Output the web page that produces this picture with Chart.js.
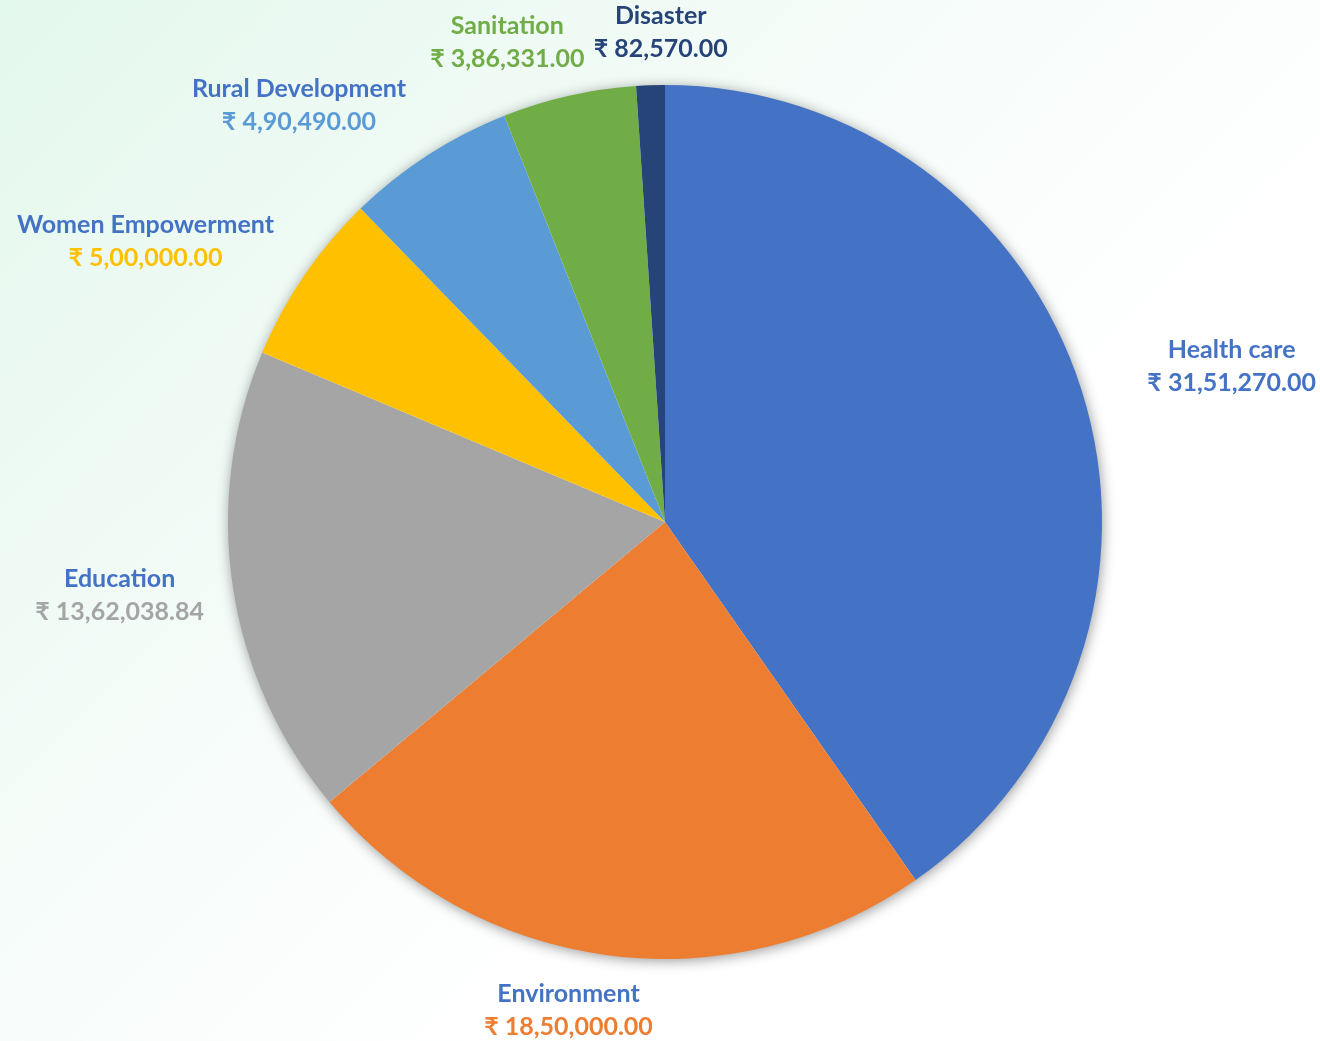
<!DOCTYPE html>
<html>
<head>
<meta charset="utf-8">
<script src="https://cdn.jsdelivr.net/npm/chart.js@4.4.1/dist/chart.umd.min.js"></script>
<style>
  html, body { margin: 0; padding: 0; }
  body {
    width: 1320px; height: 1041px; overflow: hidden;
    background: linear-gradient(135deg, #e3f8ec 0%, #eefaf4 22%, #f6fcf9 40%, #fcfefd 55%, #ffffff 68%);
  }
  #wrap { position: relative; width: 1320px; height: 1041px; }
</style>
</head>
<body>
<div id="wrap"><canvas id="pie"></canvas></div>
<script>
// Chart data
const categories = ['Health care', 'Environment', 'Education', 'Women Empowerment', 'Rural Development', 'Sanitation', 'Disaster'];
const amounts = [3151270, 1850000, 1362038.84, 500000, 490490, 386331, 82570];
const valueLabels = ['₹ 31,51,270.00', '₹ 18,50,000.00', '₹ 13,62,038.84', '₹ 5,00,000.00', '₹ 4,90,490.00', '₹ 3,86,331.00', '₹ 82,570.00'];

// Styling
const sliceColors = ['#4472C4', '#ED7D31', '#A5A5A5', '#FFC000', '#5B9BD5', '#70AD47', '#264478'];
const nameColors = ['#4472C4', '#4472C4', '#4472C4', '#4472C4', '#4472C4', '#70AD47', '#264478'];

// Label placement: distance (as a fraction of radius) and angle nudge (deg) from the slice middle
const labelDist = [1.345, 1.138, 1.259, 1.352, 1.27, 1.156, 1.121];
const labelTurn = [2.1, 3.6, 0.9, -5.9, -8.4, -5.5, 1.4];

const FONT = 'bold 25px Lato, "Noto Sans", "DejaVu Sans", sans-serif';

// Soft shadow behind the pie
const pieShadow = {
  id: 'pieShadow',
  beforeDatasetsDraw(chart) {
    const arc = chart.getDatasetMeta(0).data[0];
    if (!arc) return;
    const ctx = chart.ctx;
    ctx.save();
    ctx.shadowColor = 'rgba(0,0,0,0.45)';
    ctx.shadowBlur = 14;
    ctx.shadowOffsetX = 1;
    ctx.shadowOffsetY = 2;
    ctx.fillStyle = '#ffffff';
    ctx.beginPath();
    ctx.arc(arc.x, arc.y, arc.outerRadius - 1, 0, Math.PI * 2);
    ctx.fill();
    ctx.restore();
  }
};

// Two-line outside labels: category name + amount
const outsideLabels = {
  id: 'outsideLabels',
  afterDatasetsDraw(chart) {
    const ctx = chart.ctx;
    const arcs = chart.getDatasetMeta(0).data;
    ctx.save();
    ctx.font = FONT;
    ctx.textAlign = 'center';
    ctx.textBaseline = 'middle';
    arcs.forEach((arc, i) => {
      const mid = (arc.startAngle + arc.endAngle) / 2 + labelTurn[i] * Math.PI / 180;
      const r = arc.outerRadius * labelDist[i];
      const cx = arc.x + Math.cos(mid) * r;
      const cy = arc.y + Math.sin(mid) * r;
      ctx.fillStyle = nameColors[i];
      ctx.fillText(categories[i], cx, cy - 16);
      ctx.fillStyle = sliceColors[i];
      ctx.fillText(valueLabels[i], cx, cy + 17);
    });
    ctx.restore();
  }
};

new Chart(document.getElementById('pie'), {
  type: 'pie',
  data: {
    labels: categories,
    datasets: [{
      data: amounts,
      backgroundColor: sliceColors,
      borderWidth: 0
    }]
  },
  options: {
    responsive: true,
    maintainAspectRatio: false,
    animation: false,
    layout: { padding: { left: 228, right: 218, top: 85, bottom: 82 } },
    plugins: {
      legend: { display: false },
      tooltip: { enabled: false }
    }
  },
  plugins: [pieShadow, outsideLabels]
});
</script>
</body>
</html>
